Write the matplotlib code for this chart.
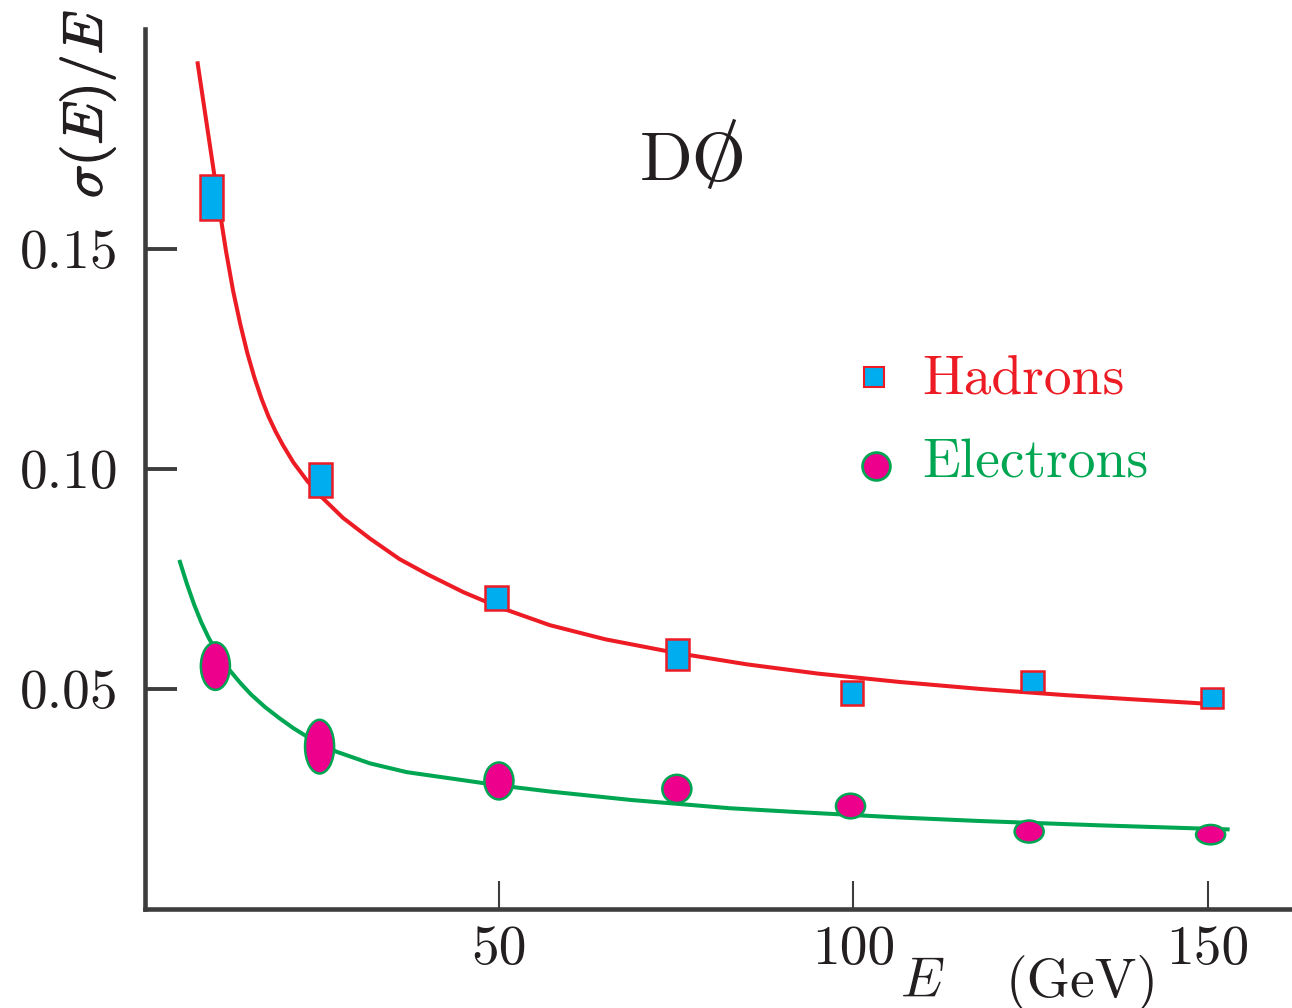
import matplotlib
matplotlib.use("Agg")
import matplotlib.pyplot as plt
import matplotlib.patheffects as pe
from matplotlib.patches import Rectangle, Ellipse
from matplotlib.lines import Line2D

plt.rcParams['font.family'] = 'cmr10'
plt.rcParams['mathtext.fontset'] = 'cm'
plt.rcParams['axes.unicode_minus'] = False

# Measured resolution points (energy in GeV, sigma(E)/E and its uncertainty)
hadron_e = [9.5, 24.8, 49.7, 75.2, 99.8, 125.3, 150.6]
hadron_res = [0.1617, 0.0975, 0.0707, 0.0578, 0.0491, 0.0517, 0.0480]
hadron_err = [0.0051, 0.0038, 0.0027, 0.0035, 0.0028, 0.0024, 0.0023]

electron_e = [10.0, 24.7, 50.0, 75.1, 99.6, 124.8, 150.4]
electron_res = [0.0552, 0.0369, 0.0291, 0.0273, 0.0234, 0.0176, 0.0169]
electron_err = [0.0054, 0.0061, 0.0042, 0.0032, 0.0028, 0.0025, 0.0022]

# Fitted resolution curves
hadron_fit_e = [7.5, 8.5, 9.5, 10.5, 11.5, 12.5, 13.5, 14.5, 15.5, 16.5, 17.5,
                18.5, 19.5, 21, 23, 25, 28, 31.8, 36, 40, 45, 50, 57.2, 65, 75,
                85, 95, 106.5, 118, 130, 140, 151.5]
hadron_fit = [0.1922, 0.1814, 0.1706, 0.1598, 0.1495, 0.1405, 0.1330, 0.1264,
              0.1208, 0.1160, 0.1119, 0.1085, 0.1055, 0.1015, 0.0972, 0.0936,
              0.0889, 0.0842, 0.0795, 0.0760, 0.0720, 0.0686, 0.0645, 0.0613,
              0.0582, 0.0556, 0.0535, 0.0516, 0.0500, 0.0486, 0.0476, 0.0465]

electron_fit_e = [5.0, 6, 7, 8, 9, 10, 11, 12, 13.5, 15, 17, 19, 21, 22.9, 27,
                  31.8, 37, 43.1, 50, 57.2, 68.5, 82.6, 92.4, 106.5, 117.8, 135,
                  152.8]
electron_fit = [0.0789, 0.0738, 0.0692, 0.0652, 0.0618, 0.0589, 0.0564, 0.0543,
                0.0514, 0.0488, 0.0459, 0.0434, 0.0411, 0.0392, 0.0358, 0.0331,
                0.0311, 0.0297, 0.0281, 0.0267, 0.0248, 0.0229, 0.0220, 0.0208,
                0.0200, 0.0190, 0.0181]

x_ticks = [50, 100, 150]
y_ticks = [0.05, 0.10, 0.15]
y_ticklabels = ['0.05', '0.10', '0.15']

red = '#ED1C24'
blue = '#00AEEF'
green = '#00A651'
magenta = '#EC008C'
axis_col = '#3d3d3d'
ink = '#231f20'

W, H = 1292, 1008
fig = plt.figure(figsize=(W / 100, H / 100), dpi=100)
ax = fig.add_axes([144.5 / W, 99 / H, 1145.5 / W, 880 / H])
ax.set_xlim(0, 161.6)
ax.set_ylim(0, 0.2)

ax.plot(hadron_fit_e, hadron_fit, color=red, lw=2.9, zorder=2,
        solid_joinstyle='round')
ax.plot(electron_fit_e, electron_fit, color=green, lw=2.9, zorder=2,
        solid_joinstyle='round')

rect_w = 3.2
for e, r, err in zip(hadron_e, hadron_res, hadron_err):
    ax.add_patch(Rectangle((e - rect_w / 2, r - err), rect_w, 2 * err,
                           facecolor=blue, edgecolor=red, lw=1.8, zorder=3))

ell_w = 4.1
for e, r, err in zip(electron_e, electron_res, electron_err):
    ax.add_patch(Ellipse((e, r), ell_w, 2 * err,
                         facecolor=magenta, edgecolor=green, lw=1.8, zorder=3))

for s in ['top', 'right']:
    ax.spines[s].set_visible(False)
for s in ['left', 'bottom']:
    ax.spines[s].set_color(axis_col)
    ax.spines[s].set_linewidth(3.3)

ax.set_xticks(x_ticks)
ax.set_xticklabels([str(t) for t in x_ticks])
ax.set_yticks(y_ticks)
ax.set_yticklabels(y_ticklabels)
ax.tick_params(axis='y', direction='in', length=23, width=2.8, color=axis_col,
               pad=19, labelsize=40, labelcolor=ink)
ax.tick_params(axis='x', direction='in', length=20, width=1.5, color=axis_col,
               pad=12, labelsize=40, labelcolor=ink)

# legend drawn by hand
ax.plot([(874 - 144.5) / 1145.5], [(1008 - 377 - 99) / 880], 's',
        transform=ax.transAxes, ms=15, mfc=blue, mec=red, mew=1.5, clip_on=False)
ax.plot([(876 - 144.5) / 1145.5], [(1008 - 466 - 99) / 880], 'o',
        transform=ax.transAxes, ms=20, mfc=magenta, mec=green, mew=2, clip_on=False)
fig.text(922 / W, 1 - 394 / H, 'Hadrons', color=red, fontsize=40, va='baseline')
fig.text(922 / W, 1 - 478 / H, 'Electrons', color=green, fontsize=40, va='baseline')

# experiment tag: "DO" with a slash through the O
fig.text(640 / W, 1 - 180 / H, 'DO', fontsize=50, va='baseline', color=ink)
fig.add_artist(Line2D([710 / W, 734 / W], [1 - 187 / H, 1 - 121 / H],
                      transform=fig.transFigure, color=ink, lw=2.4))

fig.text(87 / W, 1 - 104 / H, r'$\sigma(E)/E$', fontsize=40, rotation=90,
         ha='center', va='center', color=ink,
         path_effects=[pe.withStroke(linewidth=0.9, foreground=ink)])
fig.text(900 / W, 1 - 997 / H, r'$E$', fontsize=40, va='baseline', color=ink)
fig.text(1006 / W, 1 - 997 / H, '(GeV)', fontsize=40, va='baseline', color=ink)

fig.savefig('out.png', dpi=100)
